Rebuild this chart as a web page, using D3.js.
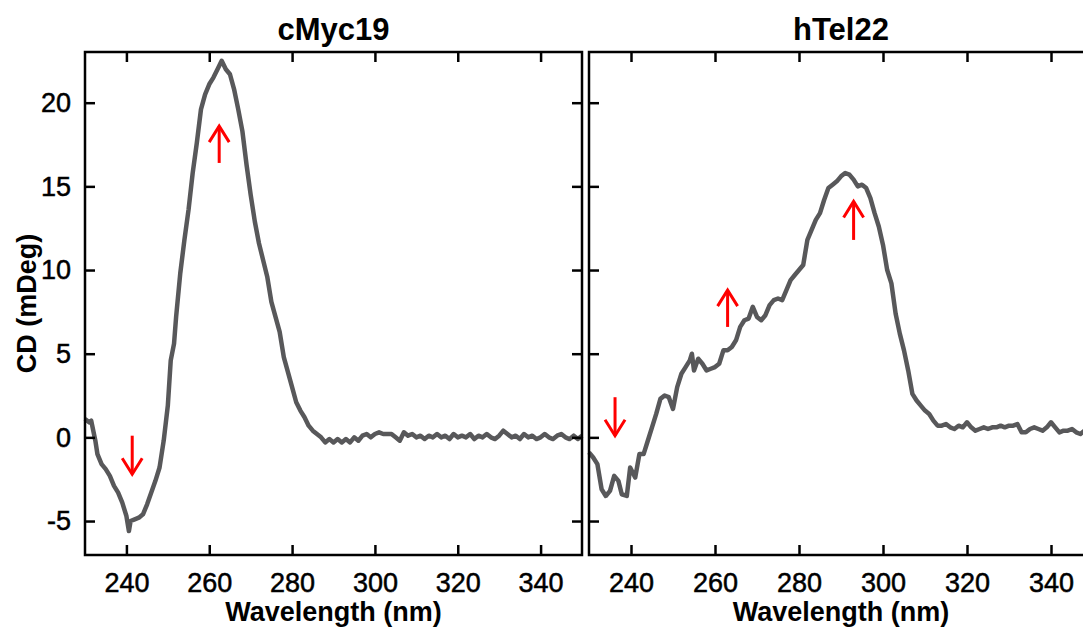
<!DOCTYPE html>
<html>
<head>
<meta charset="utf-8">
<script src="https://cdn.jsdelivr.net/npm/d3@7"></script>
<style>
  html, body { margin: 0; padding: 0; background: #fff; }
  svg { display: block; font-family: "Liberation Sans", Arial, sans-serif; }
</style>
</head>
<body>
<script>
// ---- Data ----
const panelTitles = ["cMyc19", "hTel22"];
const xTicks = [240, 260, 280, 300, 320, 340];
const yTicks = [-5, 0, 5, 10, 15, 20];
const xDomain = [230, 350];
const yDomain = [-7, 23];

const cmycWl = [230,231,231.5,232,232.5,233,234,235,236,237,238,239,240,240.6,241,242,243,244,245,246,247,248,249,250,250.7,251.5,252,253,254,255,256,257,258,259,260,261,262,263,264,265,266,267,268,269,270,271,272,273,274,275,276,277,278,279,280,281,282,283,284,285,286,287,288,
  289,290,291,292,293,294,295,296,297,298,299,300,301,302,303,304,305,306,307,308,309,310,311,312,313,314,315,316,317,318,319,320,321,322,323,324,325,326,327,328,329,330,331,332,333,334,335,336,337,338,339,340,341,342,343,344,345,346,347,348,349,350];
const cmycCd = [1.1,0.9,1.0,0.4,-0.2,-1.0,-1.6,-1.9,-2.3,-2.9,-3.3,-3.9,-4.7,-5.6,-5.0,-4.9,-4.8,-4.6,-4.0,-3.3,-2.6,-1.8,-0.2,1.9,4.6,5.6,7.2,9.8,11.8,13.6,15.8,17.6,19.6,20.5,21.1,21.5,22.0,22.5,22.0,21.7,20.8,19.6,18.3,16.3,14.5,12.9,11.6,10.6,9.6,8.1,7.2,6.3,4.8,3.9,3.0,2.1,1.6,1.2,0.7,0.4,0.2,0.0,-0.3,
  -0.1,-0.3,-0.1,-0.3,-0.1,-0.3,0.0,-0.2,0.1,0.2,0.0,0.2,0.3,0.2,0.2,0.2,0.0,-0.2,0.3,0.1,0.2,0.0,0.1,-0.1,0.1,0.0,0.2,0.0,0.1,-0.1,0.2,0.0,0.1,0.0,0.2,-0.1,0.1,0.0,0.2,0.0,-0.1,0.1,0.4,0.2,0.0,0.1,-0.1,0.2,0.0,0.1,-0.1,0.0,0.2,0.0,-0.1,0.1,0.2,0.0,-0.1,0.1,-0.1,0.1];

const htelWl = [230,231,232,233,234,235,236,237,237.8,239,239.8,241,242,243,244,245,246,247,248,249,250,251,252,253,254,254.5,255,256,257,258,259,260,261,262,263,264,265,266,267,268,269,270,271,272,273,274,275,276,277,278,279,280,281,282,283,284,285,286,287,288,289,290,291,292,293,294,295,296,297,298,299,300,301,302,303,304,305,306,307,308,309,310,
  311,312,313,314,315,316,317,318,319,320,321,322,323,324,325,326,327,328,329,330,331,332,333,334,335,336,337,338,339,340,341,342,343,344,345,346,347,348,349,350];
const htelCd = [-0.9,-1.2,-1.6,-3.1,-3.5,-3.2,-2.3,-2.6,-3.4,-3.5,-1.8,-2.4,-1.0,-1.0,-0.2,0.6,1.4,2.3,2.5,2.4,1.7,3.0,3.8,4.2,4.6,5.0,4.0,4.7,4.4,4.0,4.1,4.2,4.4,5.2,5.2,5.4,5.8,6.6,7.0,7.1,7.8,7.2,7.0,7.3,7.9,8.2,8.3,8.2,8.8,9.4,9.7,10.0,10.3,11.8,12.4,13.0,13.4,14.2,14.9,15.1,15.3,15.6,15.8,15.7,15.4,15.0,15.1,14.9,14.3,13.4,12.6,11.5,10.0,9.2,7.4,6.2,5.2,4.0,2.6,2.2,1.9,1.6,
  1.4,1.0,0.7,0.7,0.8,0.6,0.5,0.7,0.6,0.9,0.6,0.4,0.5,0.6,0.5,0.6,0.6,0.7,0.6,0.7,0.7,0.8,0.3,0.3,0.5,0.6,0.5,0.4,0.6,0.9,0.6,0.3,0.4,0.4,0.5,0.3,0.2,0.4,0.3,0.2];

// arrows: wavelength, tail value, tip value
const cmycArrowWl = [262.4, 241.4];
const cmycArrowFrom = [16.4, 0.1];
const cmycArrowTo = [18.6, -2.2];
const htelArrowWl = [236.2, 263.0, 293.0];
const htelArrowFrom = [2.4, 6.6, 11.8];
const htelArrowTo = [0.1, 8.8, 14.1];

// ---- Layout ----
const W = 1083, H = 628;
const frameTop = 52, frameBottom = 555;
const panels = [
  { title: panelTitles[0], left: 85, right: 582, wl: cmycWl, cd: cmycCd, aw: cmycArrowWl, af: cmycArrowFrom, at: cmycArrowTo, yLabels: true },
  { title: panelTitles[1], left: 589, right: 1093, wl: htelWl, cd: htelCd, aw: htelArrowWl, af: htelArrowFrom, at: htelArrowTo, yLabels: false }
];

const svg = d3.select("body").append("svg").attr("width", W).attr("height", H);
const y = d3.scaleLinear().domain(yDomain).range([554.5, 52.5]);
const fmt = d => String(d);

panels.forEach((p, i) => {
  const x = d3.scaleLinear().domain(xDomain).range([p.left, p.right]);
  const g = svg.append("g");

  // curve
  const pts = p.wl.map((w, k) => [w, p.cd[k]]);
  g.append("path")
    .datum(pts)
    .attr("fill", "none")
    .attr("stroke", "#58585a")
    .attr("stroke-width", 4.5)
    .attr("stroke-linejoin", "round")
    .attr("d", d3.line().x(d => x(d[0])).y(d => y(d[1])));

  // arrows
  p.aw.forEach((w, k) => {
    const ax = x(w), y0 = y(p.af[k]), y1 = y(p.at[k]);
    const dir = y1 < y0 ? 1 : -1; // 1 = up
    const headLen = 16, headHalf = 10;
    g.append("line").attr("x1", ax).attr("x2", ax).attr("y1", y0).attr("y2", y1)
      .attr("stroke", "#ff0000").attr("stroke-width", 3);
    g.append("path")
      .attr("d", `M${ax - headHalf},${y1 + dir * headLen} L${ax},${y1} L${ax + headHalf},${y1 + dir * headLen}`)
      .attr("fill", "none").attr("stroke", "#ff0000").attr("stroke-width", 3)
      .attr("stroke-linejoin", "miter");
  });

  // axes (ticks inward)
  const bottomAxis = d3.axisBottom(x).tickValues(xTicks).tickSize(-10).tickPadding(18).tickFormat(fmt);
  const topAxis = d3.axisTop(x).tickValues(xTicks).tickSize(-10).tickFormat("");
  const leftAxis = d3.axisLeft(y).tickValues(yTicks).tickSize(-10).tickPadding(14)
    .tickFormat(p.yLabels ? fmt : "");
  const rightAxis = d3.axisRight(y).tickValues(yTicks).tickSize(-10).tickFormat("");

  const styleAxis = sel => {
    sel.select(".domain").remove();
    sel.selectAll("line").attr("stroke", "#000").attr("stroke-width", 2.5);
    sel.selectAll("text").attr("fill", "#000").style("font-size", "27px")
      .attr("stroke", "#000").attr("stroke-width", 0.5)
      .style("font-family", "'Liberation Sans', Arial, sans-serif");
  };
  g.append("g").attr("transform", `translate(0,${frameBottom})`).call(bottomAxis).call(styleAxis);
  g.append("g").attr("transform", `translate(0,${frameTop})`).call(topAxis).call(styleAxis);
  g.append("g").attr("transform", `translate(${p.left},0)`).call(leftAxis).call(styleAxis);
  g.append("g").attr("transform", `translate(${p.right},0)`).call(rightAxis).call(styleAxis);

  // frame
  g.append("rect").attr("x", p.left).attr("y", frameTop)
    .attr("width", p.right - p.left).attr("height", frameBottom - frameTop)
    .attr("fill", "none").attr("stroke", "#000").attr("stroke-width", 2.5);

  // title
  g.append("text").attr("x", (p.left + p.right) / 2).attr("y", 40)
    .attr("text-anchor", "middle").style("font-size", "31px").style("font-weight", "bold")
    .text(p.title);

  // x axis title
  g.append("text").attr("x", (p.left + p.right) / 2).attr("y", 621)
    .attr("text-anchor", "middle").style("font-size", "27px").style("font-weight", "bold")
    .text("Wavelength (nm)");

  if (p.yLabels) {
    g.append("text")
      .attr("transform", `translate(36,${(frameTop + frameBottom) / 2}) rotate(-90)`)
      .attr("text-anchor", "middle").style("font-size", "27px").style("font-weight", "bold")
      .text("CD (mDeg)");
  }
});
</script>
</body>
</html>
